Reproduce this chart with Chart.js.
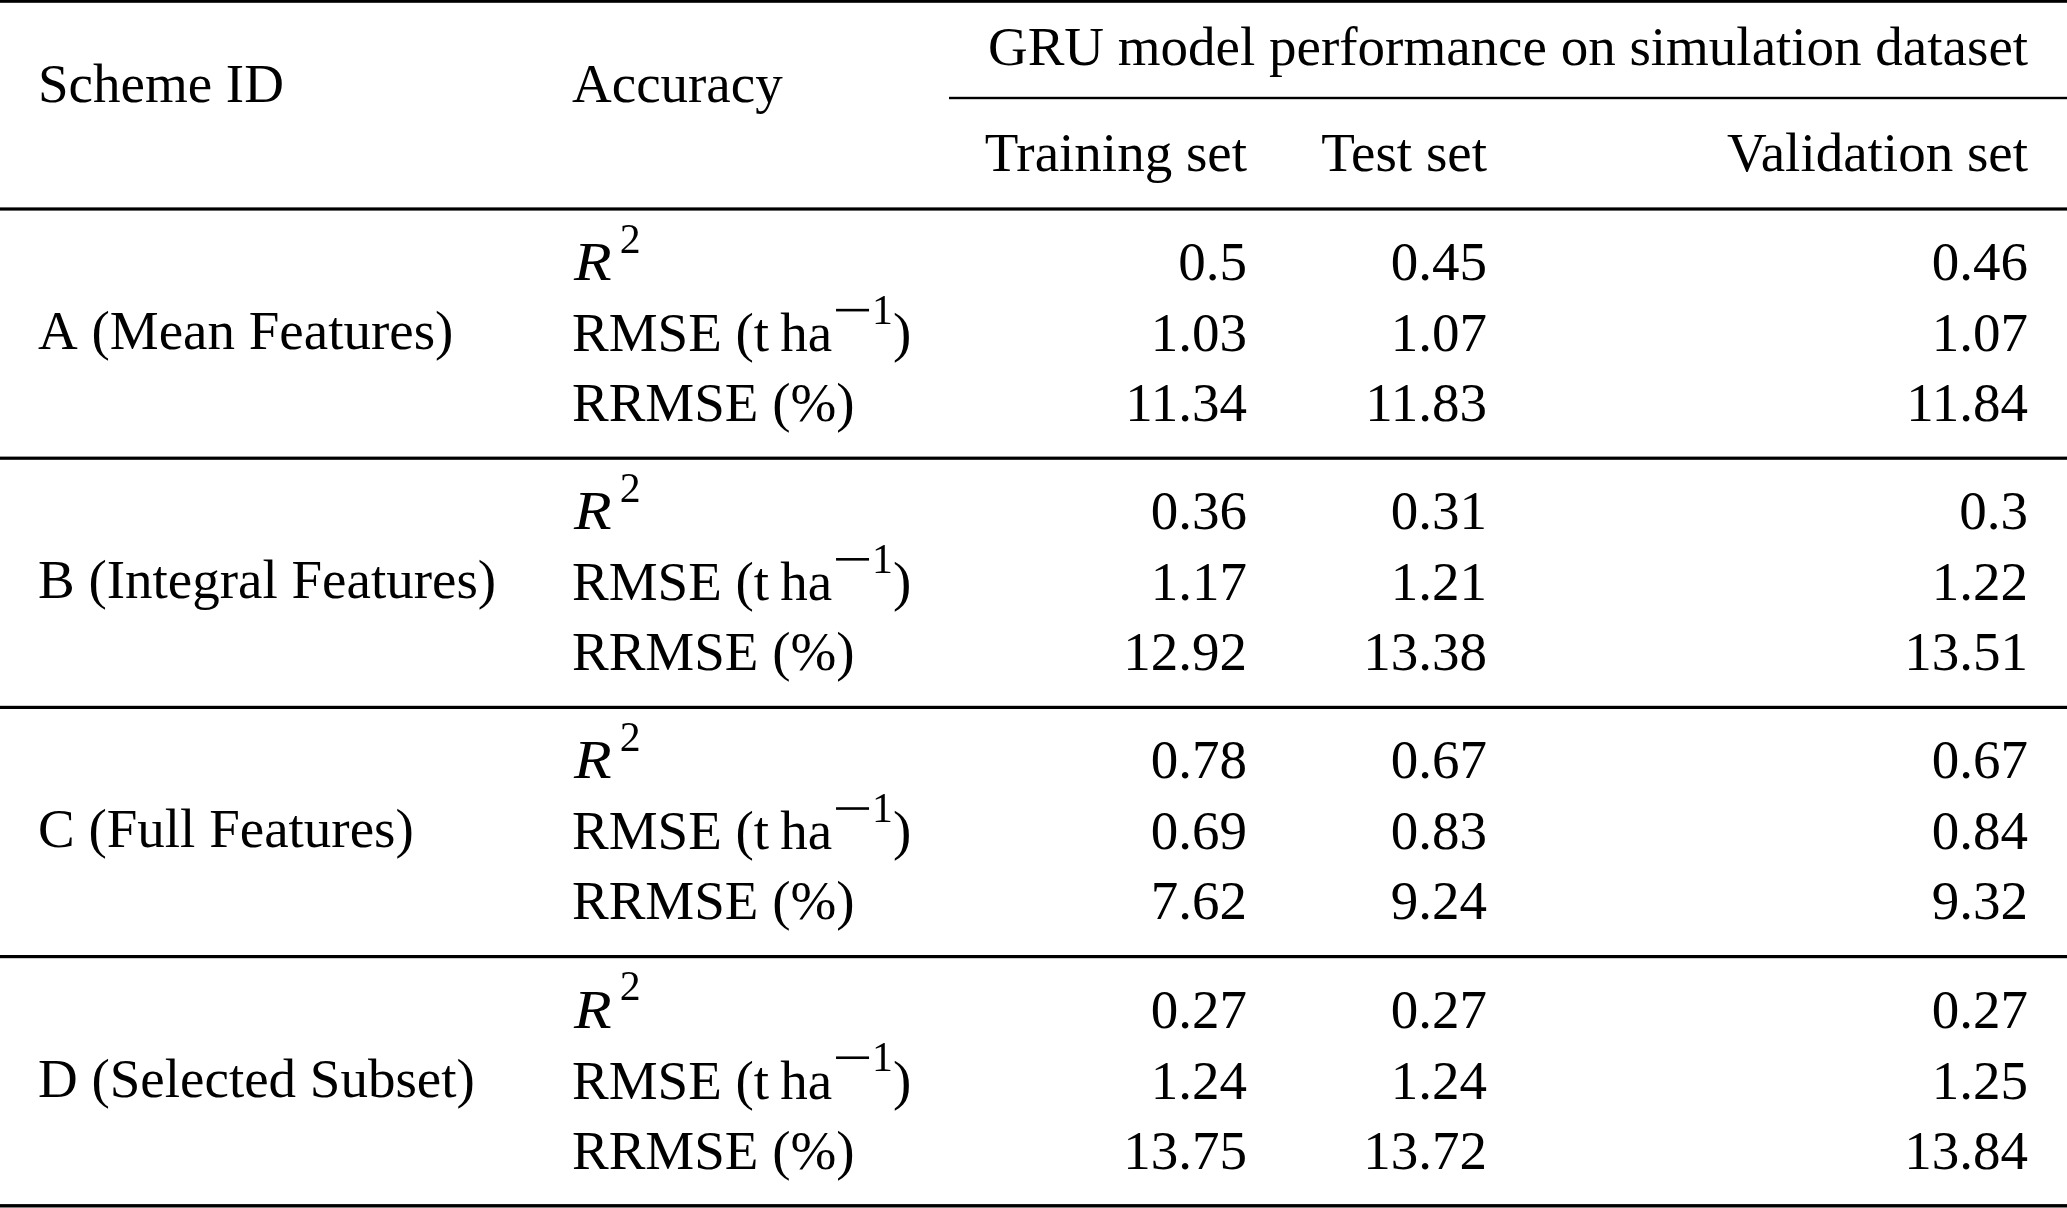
<!DOCTYPE html>
<html>
<head>
<meta charset="utf-8">
<title>GRU model performance</title>
<script src="https://cdn.jsdelivr.net/npm/chart.js@4/dist/chart.umd.min.js"></script>
<style>
  html, body { margin: 0; padding: 0; background: #fff; }
  #wrap { width: 2067px; height: 1208px; position: relative; }
</style>
</head>
<body>
<div id="wrap"><canvas id="table"></canvas></div>
<script>
// --- table content ---
var headScheme = "Scheme ID";
var headAccuracy = "Accuracy";
var spanTitle = "GRU model performance on simulation dataset";
var sets = ["Training set", "Test set", "Validation set"];
var schemes = ["A (Mean Features)", "B (Integral Features)", "C (Full Features)", "D (Selected Subset)"];
// $..$ = italic (math), ^{..} = superscript
var metrics = ["$R$^{2}", "RMSE (t\u2009ha^{\u22121})", "RRMSE (%)"];

// one value per row: scheme A..D, each R2 / RMSE / RRMSE
var trainingSet   = [0.5,  1.03, 11.34, 0.36, 1.17, 12.92, 0.78, 0.69, 7.62, 0.27, 1.24, 13.75];
var testSet       = [0.45, 1.07, 11.83, 0.31, 1.21, 13.38, 0.67, 0.83, 9.24, 0.27, 1.24, 13.72];
var validationSet = [0.46, 1.07, 11.84, 0.3,  1.22, 13.51, 0.67, 0.84, 9.32, 0.27, 1.25, 13.84];

// --- layout (scale units = page pixels) ---
var FONT = '"Liberation Serif", "Times New Roman", serif';
var fontSize = 55;
var schemeLeft = 38, metricLeft = 572;
var colRight = [1247, 1487, 2028];
var spanLeft = 949, spanCenter = 1508;
var firstRule = 209, groupStep = 249.2;
var rowOffsets = [71, 142, 212], labelOffset = 140;

function rowY(i) {
    return firstRule + Math.floor(i / 3) * groupStep + rowOffsets[i % 3];
}

// split "$R$^{2}" style markup into pieces
function parseRich(str) {
    var re = /\$([^$]*)\$|\^\{([^}]*)\}|([^$^]+)/g, m, out = [];
    while ((m = re.exec(str)) !== null) {
        if (m[1] !== undefined) out.push({ t: m[1], italic: true });
        else if (m[2] !== undefined) out.push({ t: m[2], sup: true });
        else out.push({ t: m[3] });
    }
    return out;
}

function drawRich(ctx, str, x, y) {
    var parts = parseRich(str);
    var supSize = fontSize * 0.76, supShift = fontSize * 0.5;
    parts.forEach(function (p) {
        if (p.italic) {
            // math italic is a bit wider than the text italic
            ctx.font = "italic " + fontSize + "px " + FONT;
            var w = ctx.measureText(p.t).width;
            ctx.save();
            ctx.translate(x + 2, y);
            ctx.scale(1.12, 1);
            ctx.fillText(p.t, 0, 0);
            ctx.restore();
            x += w * 1.12 + 10;
        } else if (p.sup) {
            ctx.font = supSize + "px " + FONT;
            for (var k = 0; k < p.t.length; k++) {
                var c = p.t.charAt(k);
                if (c === "\u2212") {
                    // long math minus
                    ctx.fillRect(x + 4, y - supShift - supSize * 0.32 - 1.3, 33, 2.6);
                    x += 40;
                } else {
                    ctx.fillText(c, x, y - supShift);
                    x += ctx.measureText(c).width;
                }
            }
        } else {
            ctx.font = fontSize + "px " + FONT;
            ctx.fillText(p.t, x, y);
            x += ctx.measureText(p.t).width;
        }
    });
}

var allSets = [trainingSet, testSet, validationSet];

var tablePlugin = {
    id: "tableDraw",
    afterDatasetsDraw: function (chart) {
        var ctx = chart.ctx;
        var xs = chart.scales.x, ys = chart.scales.y;
        var left = xs.getPixelForValue(0), right = xs.getPixelForValue(2067);
        ctx.save();
        ctx.fillStyle = "#000";

        // rules
        function rule(y, x0, x1, w) {
            var py = ys.getPixelForValue(y);
            ctx.fillRect(x0, py - w / 2, x1 - x0, w);
        }
        rule(1.4, left, right, 2.8);
        rule(98, xs.getPixelForValue(spanLeft), right, 2.4);
        for (var g = 0; g <= schemes.length; g++) {
            var w = (g === schemes.length) ? 3.4 : 3.2;
            rule(firstRule + g * groupStep, left, right, w);
        }

        // header
        ctx.font = fontSize + "px " + FONT;
        ctx.textBaseline = "alphabetic";
        ctx.textAlign = "left";
        ctx.fillText(headScheme, xs.getPixelForValue(schemeLeft), ys.getPixelForValue(102));
        ctx.fillText(headAccuracy, xs.getPixelForValue(metricLeft), ys.getPixelForValue(102));
        ctx.textAlign = "center";
        ctx.fillText(spanTitle, xs.getPixelForValue(spanCenter), ys.getPixelForValue(65));
        ctx.textAlign = "right";
        sets.forEach(function (name, s) {
            ctx.fillText(name, xs.getPixelForValue(colRight[s]), ys.getPixelForValue(171));
        });

        // scheme labels and metric names
        ctx.textAlign = "left";
        schemes.forEach(function (name, g) {
            ctx.font = fontSize + "px " + FONT;
            ctx.fillText(name, xs.getPixelForValue(schemeLeft), ys.getPixelForValue(firstRule + g * groupStep + labelOffset));
            metrics.forEach(function (mname, r) {
                drawRich(ctx, mname, xs.getPixelForValue(metricLeft), ys.getPixelForValue(rowY(g * 3 + r)));
            });
        });

        // values, placed on the dataset points
        ctx.font = fontSize + "px " + FONT;
        ctx.textAlign = "right";
        chart.data.datasets.forEach(function (ds, s) {
            var meta = chart.getDatasetMeta(s);
            meta.data.forEach(function (pt, i) {
                ctx.fillText(String(allSets[s][i]), pt.x, pt.y);
            });
        });
        ctx.restore();
    }
};

var datasets = sets.map(function (name, s) {
    return {
        label: name,
        data: allSets[s].map(function (v, i) { return { x: colRight[s], y: rowY(i) }; }),
        pointRadius: 0,
        showLine: false
    };
});

new Chart(document.getElementById("table"), {
    type: "scatter",
    data: { datasets: datasets },
    options: {
        responsive: true,
        maintainAspectRatio: false,
        animation: false,
        layout: { padding: 0 },
        plugins: { legend: { display: false }, tooltip: { enabled: false } },
        scales: {
            x: { type: "linear", min: 0, max: 2067, display: false },
            y: { type: "linear", min: 0, max: 1208, reverse: true, display: false }
        }
    },
    plugins: [tablePlugin]
});
</script>
</body>
</html>
